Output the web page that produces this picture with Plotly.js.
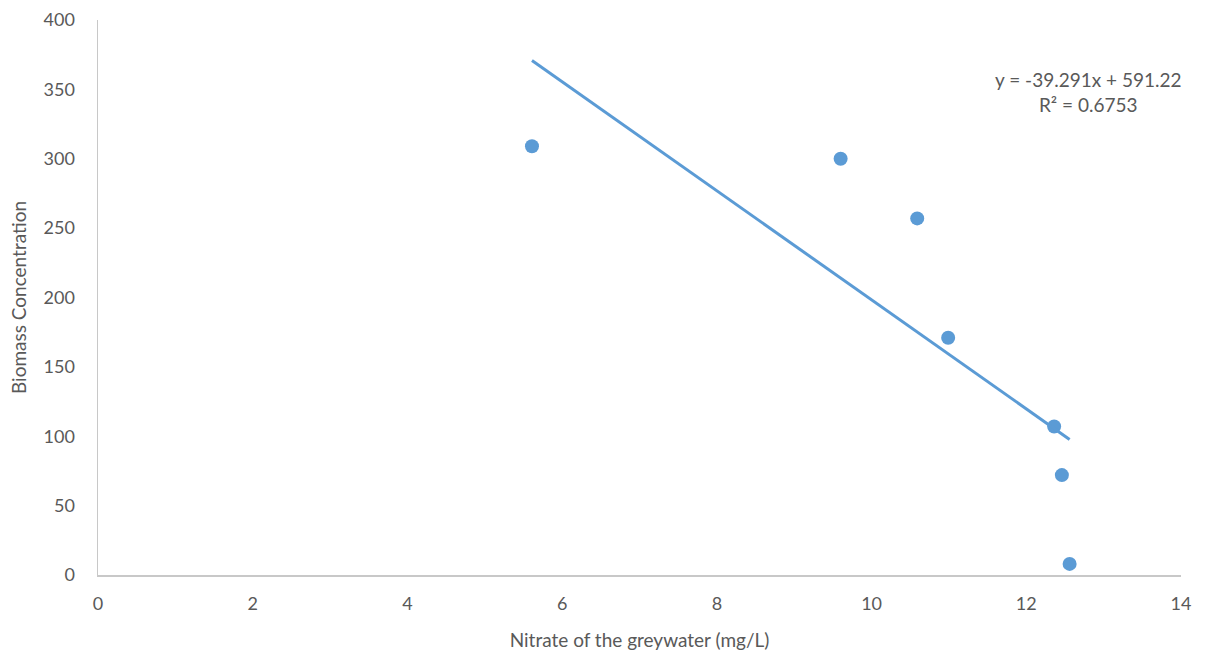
<!DOCTYPE html>
<html>
<head>
<meta charset="utf-8">
<script src="https://cdn.plot.ly/plotly-3.0.1.min.js"></script>
<style>html,body{margin:0;padding:0;background:#fff;}#chart{width:1214px;height:662px;}</style>
</head>
<body>
<div id="chart"></div>
<script>
const nitrate = [5.61, 9.60, 10.59, 10.99, 12.36, 12.46, 12.56];
const biomass = [309, 300, 257, 171, 107, 72, 8];
const trendSlope = -39.291;
const trendIntercept = 591.22;
const rSquared = 0.6753;
const xTicks = [0, 2, 4, 6, 8, 10, 12, 14];
const yTicks = [0, 50, 100, 150, 200, 250, 300, 350, 400];

const xMin = Math.min(...nitrate), xMax = Math.max(...nitrate);
const trendX = [xMin, xMax];
const trendY = trendX.map(x => trendSlope * x + trendIntercept);

const blue = '#5b9bd5';
const grey = '#595959';
const font = 'Lato, Open Sans, Liberation Sans, sans-serif';

Plotly.newPlot('chart', [
  {x: nitrate, y: biomass, type: 'scatter', mode: 'markers',
   marker: {color: blue, size: 14}, hoverinfo: 'x+y'},
  {x: trendX, y: trendY, type: 'scatter', mode: 'lines',
   line: {color: blue, width: 3}, hoverinfo: 'skip'}
], {
  width: 1214, height: 662,
  margin: {l: 98, r: 33, t: 20, b: 87},
  showlegend: false,
  paper_bgcolor: '#fff', plot_bgcolor: '#fff',
  font: {family: font, color: grey, size: 18},
  xaxis: {range: [0, 14], tickvals: xTicks, ticktext: xTicks.map(String),
    showgrid: false, zeroline: false, showline: true, linecolor: '#c8c8c8', linewidth: 1.5,
    ticks: '', ticklen: 0, ticklabelstandoff: 12, tickfont: {size: 18, color: grey},
    title: {text: 'Nitrate of the greywater (mg/L)', font: {size: 19, color: grey}, standoff: 20}},
  yaxis: {range: [0, 400], tickvals: yTicks, ticktext: yTicks.map(String),
    showgrid: false, zeroline: false, showline: true, linecolor: '#c8c8c8', linewidth: 1.5,
    ticks: '', ticklen: 0, ticklabelstandoff: 18, tickfont: {size: 18, color: grey},
    title: {text: 'Biomass Concentration', font: {size: 19, color: grey}, standoff: 12}},
  annotations: [{
    xref: 'x', yref: 'y', x: 12.81, y: 348, xanchor: 'center', yanchor: 'middle',
    text: 'y = ' + trendSlope + 'x + ' + trendIntercept + '<br>R² = ' + rSquared,
    showarrow: false, align: 'center', font: {size: 19, color: grey}
  }]
}, {displayModeBar: false, staticPlot: true});
</script>
</body>
</html>
